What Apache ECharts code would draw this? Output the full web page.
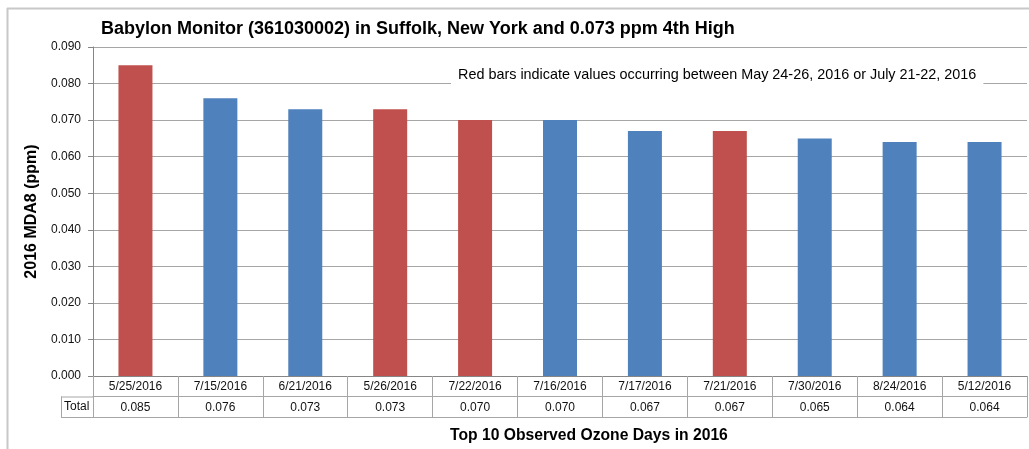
<!DOCTYPE html>
<html>
<head>
<meta charset="utf-8">
<script src="https://cdn.jsdelivr.net/npm/echarts@6/dist/echarts.min.js"></script>
<style>
  html, body { margin: 0; padding: 0; background: #fff; }
  #chart { width: 1029px; height: 449px; }
</style>
</head>
<body>
<div id="chart"></div>
<script>
// Top 10 observed ozone days (MDA8, ppm) at the Babylon monitor, 2016
const dates = ['5/25/2016', '7/15/2016', '6/21/2016', '5/26/2016', '7/22/2016',
               '7/16/2016', '7/17/2016', '7/21/2016', '7/30/2016', '8/24/2016', '5/12/2016'];
const values = [0.085, 0.076, 0.073, 0.073, 0.070, 0.070, 0.067, 0.067, 0.065, 0.064, 0.064];
const yTicks = [0.000, 0.010, 0.020, 0.030, 0.040, 0.050, 0.060, 0.070, 0.080, 0.090];

const RED = '#C0504D';
const BLUE = '#4F81BD';
const FONT = 'Liberation Sans';

// Days falling inside the event windows (May 24-26 or July 21-22) are shown in red
function inEventWindow(d) {
  const [m, day] = d.split('/').map(Number);
  return (m === 5 && day >= 24 && day <= 26) || (m === 7 && day >= 21 && day <= 22);
}

const gridLeft = 93, gridRight = 2, gridTop = 47, gridBottom = 73;
const W = 1029, H = 449;
const axisY = H - gridBottom;       // zero line
const rowH = 20.5;                  // data-table row height
const lineColor = '#a6a6a6';
const textColor = '#111';

const chart = echarts.init(document.getElementById('chart'), null, { renderer: 'canvas' });

chart.setOption({
  animation: false,
  backgroundColor: '#fff',
  textStyle: { fontFamily: FONT },
  grid: { left: gridLeft, right: gridRight, top: gridTop, bottom: gridBottom, containLabel: false },
  xAxis: [
    {
      type: 'category',
      data: dates,
      axisLine: { lineStyle: { color: '#868686', width: 1 } },
      axisTick: { show: true, length: rowH * 2, lineStyle: { color: lineColor } },
      axisLabel: { color: textColor, fontSize: 12, fontFamily: FONT, margin: 5, interval: 0 },
      splitLine: { show: false }
    },
    {
      type: 'category',
      data: dates,
      position: 'bottom',
      offset: rowH,
      axisLine: { lineStyle: { color: lineColor, width: 1 } },
      axisTick: { show: false },
      axisLabel: {
        color: textColor, fontSize: 12, fontFamily: FONT, margin: 5, interval: 0,
        formatter: (v, i) => values[i].toFixed(3)
      }
    },
    {
      type: 'category',
      data: dates,
      position: 'bottom',
      offset: rowH * 2,
      axisLine: { lineStyle: { color: lineColor, width: 1 } },
      axisTick: { show: false },
      axisLabel: { show: false }
    }
  ],
  yAxis: {
    type: 'value',
    min: yTicks[0],
    max: yTicks[yTicks.length - 1],
    interval: 0.01,
    name: '2016 MDA8 (ppm)',
    nameLocation: 'middle',
    nameGap: 53,
    nameTextStyle: { fontSize: 16, fontWeight: 'bold', color: '#000', fontFamily: FONT },
    axisLine: { show: true, lineStyle: { color: '#868686' } },
    axisTick: { show: true, length: 5, lineStyle: { color: '#868686' } },
    axisLabel: { color: textColor, fontSize: 12, fontFamily: FONT, margin: 12,
                 formatter: v => v.toFixed(3) },
    splitLine: { lineStyle: { color: '#a6a6a6', width: 1 } }
  },
  series: [{
    type: 'bar',
    xAxisIndex: 0,
    data: values,
    barWidth: 34,
    itemStyle: { color: p => inEventWindow(dates[p.dataIndex]) ? RED : BLUE },
    z: 3
  }],
  graphic: [
    // outer chart frame (left and top edges)
    { type: 'line', shape: { x1: 7.5, y1: 8, x2: 7.5, y2: H }, style: { stroke: '#c8c8c8', lineWidth: 2 }, silent: true },
    { type: 'line', shape: { x1: 7, y1: 8.5, x2: W, y2: 8.5 }, style: { stroke: '#c8c8c8', lineWidth: 2 }, silent: true },
    // chart title
    { type: 'text', left: 101, top: 20,
      style: { text: 'Babylon Monitor (361030002) in Suffolk, New York and 0.073 ppm 4th High',
               font: 'bold 18px "' + FONT + '"', fill: '#000' } },
    // annotation box
    { type: 'text', left: 451, top: 65, z: 10,
      style: { text: 'Red bars indicate values occurring between May 24-26, 2016 or July 21-22, 2016',
               font: '14.4px "' + FONT + '"', fill: '#000', backgroundColor: '#fff', padding: [3, 7, 3, 7] } },
    // "Total" row header cell
    { type: 'line', shape: { x1: 61, y1: axisY + rowH + 0.5, x2: gridLeft, y2: axisY + rowH + 0.5 }, style: { stroke: lineColor } },
    { type: 'line', shape: { x1: 61, y1: axisY + rowH * 2 + 0.5, x2: gridLeft, y2: axisY + rowH * 2 + 0.5 }, style: { stroke: lineColor } },
    { type: 'line', shape: { x1: 61.5, y1: axisY + rowH, x2: 61.5, y2: axisY + rowH * 2 }, style: { stroke: lineColor } },
    { type: 'text', left: 64, top: axisY + rowH + 4,
      style: { text: 'Total', font: '12px "' + FONT + '"', fill: textColor } },
    // category axis title
    { type: 'text', left: 450, top: 428,
      style: { text: 'Top 10 Observed Ozone Days in 2016', font: 'bold 15.7px "' + FONT + '"', fill: '#000' } }
  ]
});
</script>
</body>
</html>
